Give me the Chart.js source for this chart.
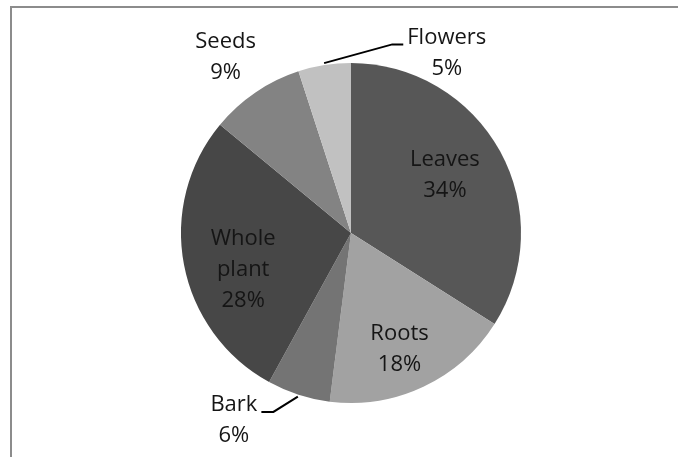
<!DOCTYPE html>
<html>
<head>
<meta charset="utf-8">
<script src="https://cdn.jsdelivr.net/npm/chart.js@4"></script>
<style>
  body { margin: 0; background: #fff; }
  #wrap { position: relative; width: 678px; height: 457px; overflow: hidden; }
  #frame { position: absolute; left: 10px; top: 6px; width: 720px; height: 520px;
           border: 2px solid #8c8c8c; }
  canvas { position: absolute; left: 0; top: 0; }
</style>
</head>
<body>
<div id="wrap">
  <div id="frame"></div>
  <canvas id="pie-chart" width="678" height="457"></canvas>
</div>
<script>
// data, clockwise from 12 o'clock
var categories = ['Leaves', 'Roots', 'Bark', 'Whole plant', 'Seeds', 'Flowers'];
var shares = [34, 18, 6, 28, 9, 5];
var sliceColors = ['#575757', '#a2a2a2', '#747474', '#474747', '#838383', '#c1c1c1'];

// where each label sits: fraction of radius, turn from slice middle (deg), leader line?
var labelPlace = [
  { r: 0.65, turn: -3, leader: false },
  { r: 0.74, turn: 2.5, leader: false },
  { r: 1.30, turn: 14, leader: true },
  { r: 0.67, turn: -8, leader: false },
  { r: 1.27, turn: -1.3, leader: false },
  { r: 1.20, turn: 37, leader: true }
];

var pieLabels = {
  id: 'pieLabels',
  afterDatasetsDraw: function (chart) {
    var ctx = chart.ctx;
    var meta = chart.getDatasetMeta(0);
    ctx.save();
    ctx.font = '22px "Open Sans"';
    ctx.fillStyle = '#151515';
    ctx.textAlign = 'center';
    ctx.textBaseline = 'middle';
    var lh = 31;
    meta.data.forEach(function (arc, i) {
      var p = arc.getProps(['x', 'y', 'startAngle', 'endAngle', 'outerRadius'], true);
      var mid = (p.startAngle + p.endAngle) / 2;
      var pl = labelPlace[i];
      var a = mid + pl.turn * Math.PI / 180;
      var lx = p.x + Math.cos(a) * p.outerRadius * pl.r;
      var ly = p.y + Math.sin(a) * p.outerRadius * pl.r;
      var lines = categories[i].split(' ').concat([shares[i] + '%']);
      var top = ly - (lines.length - 1) * lh / 2;
      lines.forEach(function (t, k) {
        ctx.fillText(t, lx, top + k * lh);
      });
      if (pl.leader) {
        var sx = p.x + Math.cos(mid) * (p.outerRadius + 2);
        var sy = p.y + Math.sin(mid) * (p.outerRadius + 2);
        var w = ctx.measureText(lines[0]).width;
        var ey = top + 7;
        var ex, bx;
        if (lx > sx) { ex = lx - w / 2 - 4; bx = ex - 11; }
        else { ex = lx + w / 2 + 4; bx = ex + 12; }
        ctx.beginPath();
        ctx.moveTo(sx, sy);
        ctx.lineTo(bx, ey);
        ctx.lineTo(ex, ey);
        ctx.strokeStyle = '#000';
        ctx.lineWidth = 2;
        ctx.stroke();
      }
    });
    ctx.restore();
  }
};

new Chart(document.getElementById('pie-chart'), {
  type: 'pie',
  data: {
    labels: categories,
    datasets: [{
      data: shares,
      backgroundColor: sliceColors,
      borderWidth: 0
    }]
  },
  options: {
    responsive: false,
    animation: false,
    layout: { padding: { left: 24, right: 0, top: 63, bottom: 54 } },
    plugins: {
      legend: { display: false },
      tooltip: { enabled: false }
    }
  },
  plugins: [pieLabels]
});
</script>
</body>
</html>
